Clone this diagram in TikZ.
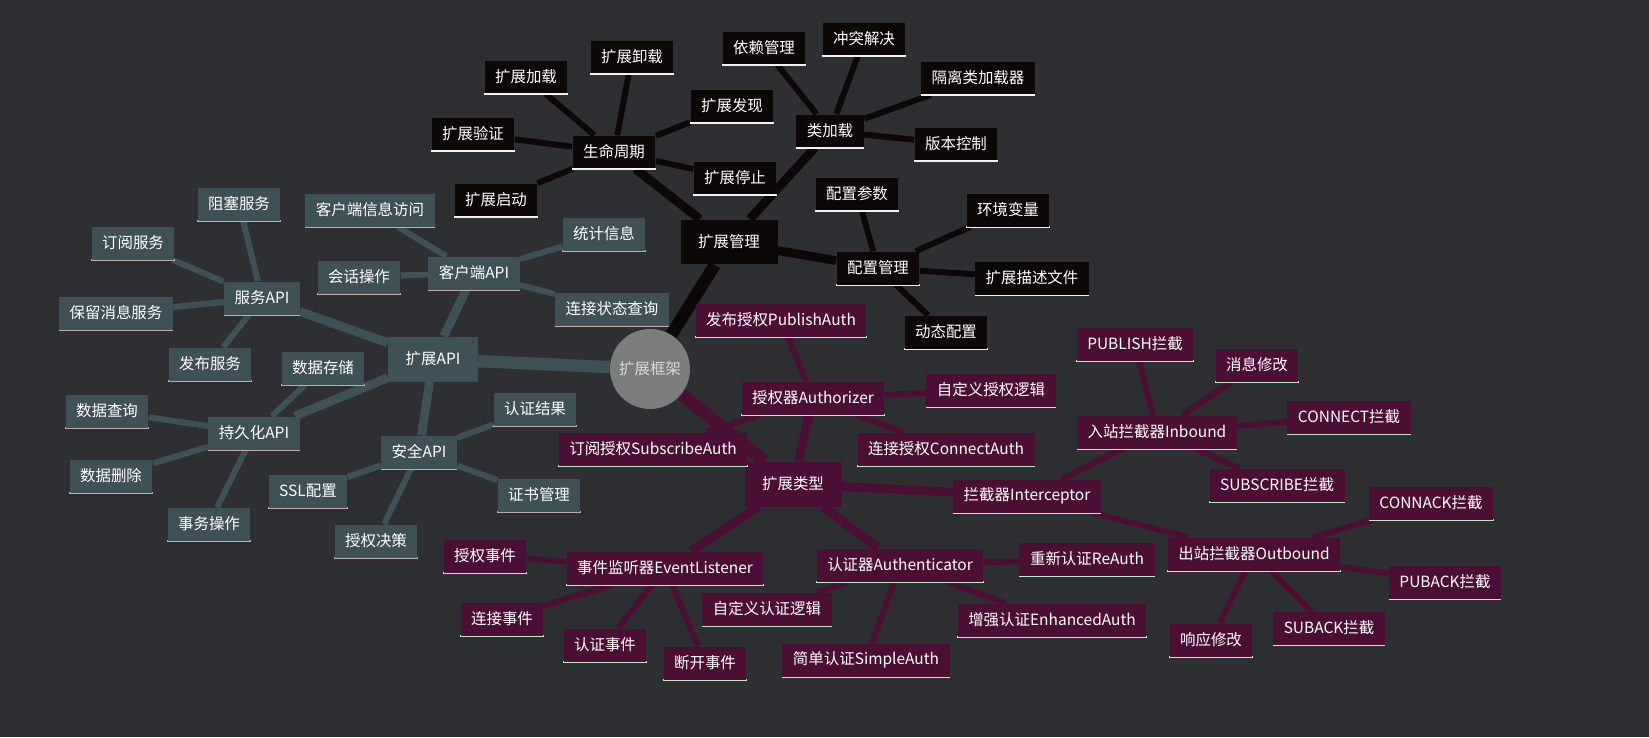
\documentclass[tikz,border=0pt]{standalone}
\usepackage{fontspec}
\setmainfont{Noto Sans CJK SC}
\usetikzlibrary{backgrounds}
\definecolor{bgc}{HTML}{2D2F33}
\definecolor{blk}{HTML}{0E0707}
\definecolor{teal}{HTML}{3E5157}
\definecolor{plum}{HTML}{4B0E35}
\definecolor{rootc}{HTML}{7B7C7C}
\definecolor{ulw}{HTML}{F2F2F2}
\definecolor{ulp}{HTML}{C7A9AA}
\definecolor{ulg}{HTML}{B9ECCB}
\tikzset{
  box/.style={inner xsep=6pt, minimum height=0.66cm, text=white, font=\fontsize{8.8}{10}\selectfont},
  under/.style={append after command={\pgfextra{\draw[#1, line width=1.4pt]
      (\tikzlastnode.south west) -- (\tikzlastnode.south east);}}},
  bk/.style={box, fill=blk, under=ulw},
  tl/.style={box, fill=teal, under=ulp},
  pl/.style={box, fill=plum, under=ulg},
  hub/.style={box, minimum height=0.9cm, inner xsep=10pt},
  e1/.style={line width=7pt},
  e2/.style={line width=5pt},
  e3/.style={line width=3.4pt}
}
\begin{document}
\begin{tikzpicture}[x=0.02cm, y=-0.02cm]
\useasboundingbox (0,0) rectangle (1649,737);
\node[circle, fill=rootc, minimum size=1.6cm, text=white!85!black, font=\fontsize{8.8}{10}\selectfont] (root) at (650,369) {扩展框架};
% black branch
\node[hub, fill=blk] (mgmt) at (729,242) {扩展管理};
\node[bk] (life) at (614,152) {生命周期};
\node[bk] (cls) at (830,131) {类加载};
\node[bk] (cfg) at (878,268) {配置管理};
\node[bk] (l1) at (526,77) {扩展加载};
\node[bk] (l2) at (632,57) {扩展卸载};
\node[bk] (l3) at (732,106) {扩展发现};
\node[bk] (l4) at (473,134) {扩展验证};
\node[bk] (l5) at (496,200) {扩展启动};
\node[bk] (l6) at (735,178) {扩展停止};
\node[bk] (c1) at (764,48) {依赖管理};
\node[bk] (c2) at (864,39) {冲突解决};
\node[bk] (c3) at (978,78) {隔离类加载器};
\node[bk] (c4) at (956,144) {版本控制};
\node[bk] (f1) at (857,194) {配置参数};
\node[bk] (f2) at (1008,210) {环境变量};
\node[bk] (f3) at (1032,278) {扩展描述文件};
\node[bk] (f4) at (946,332) {动态配置};
% teal branch
\node[hub, fill=teal] (api) at (433,359) {扩展API};
\node[tl] (svc) at (262,298) {服务API};
\node[tl] (cli) at (474,273) {客户端API};
\node[tl] (per) at (254,433) {持久化API};
\node[tl] (sec) at (419,452) {安全API};
\node[tl] (s1) at (239,204) {阻塞服务};
\node[tl] (s2) at (133,243) {订阅服务};
\node[tl] (s3) at (116,313) {保留消息服务};
\node[tl] (s4) at (210,364) {发布服务};
\node[tl] (k1) at (370,210) {客户端信息访问};
\node[tl] (k2) at (604,234) {统计信息};
\node[tl] (k3) at (359,277) {会话操作};
\node[tl] (k4) at (612,309) {连接状态查询};
\node[tl] (p1) at (323,368) {数据存储};
\node[tl] (p2) at (107,411) {数据查询};
\node[tl] (p3) at (111,476) {数据删除};
\node[tl] (p4) at (209,524) {事务操作};
\node[tl] (a1) at (535,409) {认证结果};
\node[tl] (a2) at (308,491) {SSL配置};
\node[tl] (a3) at (539,495) {证书管理};
\node[tl] (a4) at (376,541) {授权决策};
% plum branch
\node[hub, fill=plum] (types) at (793,484) {扩展类型};
\node[pl] (authz) at (813,398) {授权器Authorizer};
\node[pl] (icpt) at (1027,496) {拦截器Interceptor};
\node[pl] (evt) at (665,568) {事件监听器EventListener};
\node[pl] (authn) at (900,565) {认证器Authenticator};
\node[pl] (z1) at (781,320) {发布授权PublishAuth};
\node[pl] (z2) at (991,390) {自定义授权逻辑};
\node[pl] (z3) at (653,449) {订阅授权SubscribeAuth};
\node[pl] (z4) at (946,449) {连接授权ConnectAuth};
\node[pl] (inb) at (1157,432) {入站拦截器Inbound};
\node[pl] (outb) at (1254,554) {出站拦截器Outbound};
\node[pl] (i1) at (1135,344) {PUBLISH拦截};
\node[pl] (i2) at (1257,365) {消息修改};
\node[pl] (i3) at (1349,417) {CONNECT拦截};
\node[pl] (i4) at (1277,485) {SUBSCRIBE拦截};
\node[pl] (o1) at (1431,503) {CONNACK拦截};
\node[pl] (o2) at (1445,582) {PUBACK拦截};
\node[pl] (o3) at (1329,628) {SUBACK拦截};
\node[pl] (o4) at (1211,640) {响应修改};
\node[pl] (v1) at (485,556) {授权事件};
\node[pl] (v2) at (502,619) {连接事件};
\node[pl] (v3) at (605,645) {认证事件};
\node[pl] (v4) at (705,663) {断开事件};
\node[pl] (n1) at (1087,559) {重新认证ReAuth};
\node[pl] (n2) at (767,609) {自定义认证逻辑};
\node[pl] (n3) at (1052,620) {增强认证EnhancedAuth};
\node[pl] (n4) at (866,660) {简单认证SimpleAuth};
\begin{scope}[on background layer]
  \fill[bgc] (0,0) rectangle (1649,737);
  \draw[e1, blk] (root) -- (mgmt);
  \draw[e1, teal] (root) -- (api);
  \draw[e1, plum] (root) -- (types);
  \foreach \m in {life,cls,cfg} \draw[e2, blk] (mgmt) -- (\m);
  \foreach \m in {svc,cli,per,sec} \draw[e2, teal] (api) -- (\m);
  \foreach \m in {authz,icpt,evt,authn} \draw[e2, plum] (types) -- (\m);
  \foreach \m in {l1,l2,l3,l4,l5,l6} \draw[e3, blk] (life) -- (\m);
  \foreach \m in {c1,c2,c3,c4} \draw[e3, blk] (cls) -- (\m);
  \foreach \m in {f1,f2,f3,f4} \draw[e3, blk] (cfg) -- (\m);
  \foreach \m in {s1,s2,s3,s4} \draw[e3, teal] (svc) -- (\m);
  \foreach \m in {k1,k2,k3,k4} \draw[e3, teal] (cli) -- (\m);
  \foreach \m in {p1,p2,p3,p4} \draw[e3, teal] (per) -- (\m);
  \foreach \m in {a1,a2,a3,a4} \draw[e3, teal] (sec) -- (\m);
  \foreach \m in {z1,z2,z3,z4} \draw[e3, plum] (authz) -- (\m);
  \foreach \m in {inb,outb} \draw[e3, plum] (icpt) -- (\m);
  \foreach \m in {i1,i2,i3,i4} \draw[e3, plum] (inb) -- (\m);
  \foreach \m in {o1,o2,o3,o4} \draw[e3, plum] (outb) -- (\m);
  \foreach \m in {v1,v2,v3,v4} \draw[e3, plum] (evt) -- (\m);
  \foreach \m in {n1,n2,n3,n4} \draw[e3, plum] (authn) -- (\m);
\end{scope}
\end{tikzpicture}
\end{document}
